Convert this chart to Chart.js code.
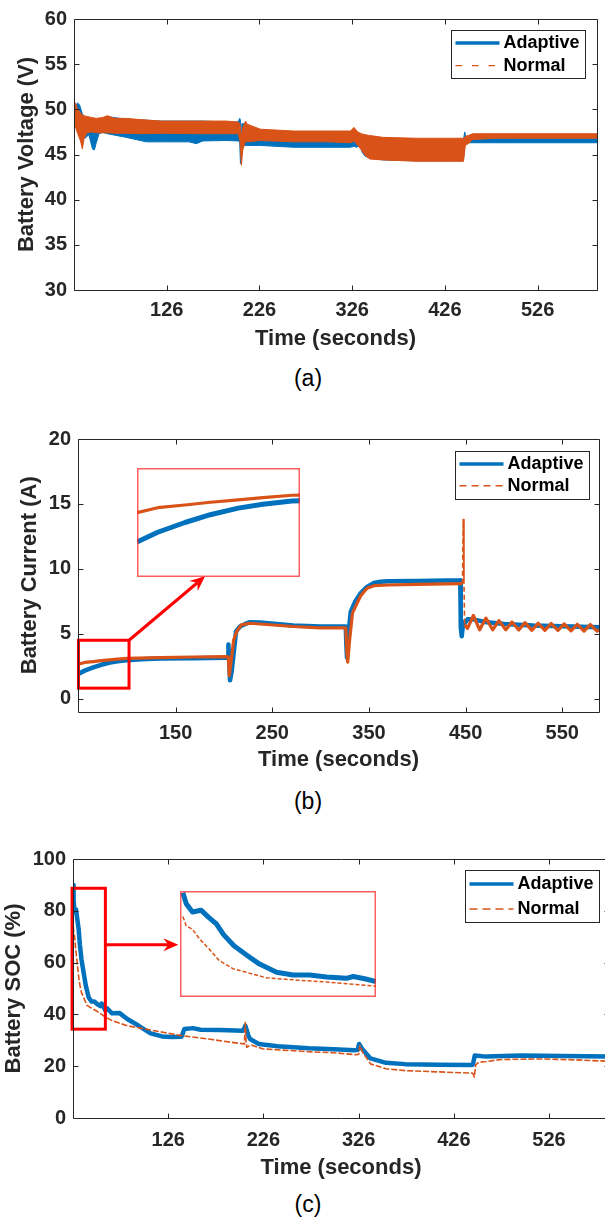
<!DOCTYPE html>
<html>
<head>
<meta charset="utf-8">
<script src="https://cdn.jsdelivr.net/npm/chart.js@4.4.1/dist/chart.umd.min.js"></script>
<style>
html, body { margin: 0; padding: 0; background: #fff; overflow: hidden; }
body { width: 605px; height: 1217px; position: relative; }
.panel { position: absolute; left: 0; }
.panel canvas { position: absolute; left: 0; top: 0; display: block; }
.cap { position: absolute; left: 0; width: 616px; height: 30px; line-height: 30px; text-align: center;
       font: 23px "Liberation Sans", Arial, sans-serif; color: #000; }
</style>
</head>
<body>
<div class="panel" id="panelA" style="top:0;width:605px;height:360px"><canvas id="chartA" width="605" height="360"></canvas></div>
<div class="cap" style="top:365px">(a)</div>
<div class="panel" id="panelB" style="top:420px;width:605px;height:360px"><canvas id="chartB" width="605" height="360"></canvas></div>
<div class="cap" style="top:788px">(b)</div>
<div class="panel" id="panelC" style="top:840px;width:620px;height:350px"><canvas id="chartC" width="620" height="350"></canvas></div>
<div class="cap" style="top:1191px">(c)</div>

<script>
// ---------------- data ----------------
const seriesNames = ['Adaptive', 'Normal'];

// (a) battery voltage: upper / lower envelope of each trace (V)
const voltTimeTicks = [126, 226, 326, 426, 526];
const voltTicks = [30, 35, 40, 45, 50, 55, 60];
const adaptiveVoltTime = [26, 28, 30, 32, 35, 38, 42, 46, 48, 50, 53, 57, 62, 82, 104, 119, 150, 158, 165, 191, 203, 204.7, 205.5, 206.2, 207, 210, 213, 227, 263, 324, 328, 331, 334, 337, 340, 345, 359, 395, 446, 447.3, 448.5, 451, 456, 500, 590];
const adaptiveVoltHigh = [50.0, 50.5, 50.7, 50.5, 49.5, 49.0, 48.9, 48.8, 48.8, 48.8, 48.9, 49.0, 49.2, 48.9, 48.8, 48.7, 48.7, 48.7, 48.7, 48.6, 48.6, 49.0, 48.8, 47.5, 48.4, 48.4, 48.2, 47.7, 47.5, 47.5, 47.7, 47.3, 46.8, 46.6, 46.5, 46.5, 46.6, 46.6, 46.6, 47.5, 47.0, 46.8, 46.8, 46.8, 46.8];
const adaptiveVoltLow = [48.0, 48.6, 49.2, 48.0, 47.0, 46.8, 47.2, 45.6, 45.5, 46.3, 47.3, 47.45, 47.3, 46.9, 46.4, 46.4, 46.4, 46.2, 46.5, 46.55, 46.5, 46.4, 44.0, 45.0, 45.8, 46.0, 46.0, 46.0, 45.8, 45.8, 45.9, 45.8, 46.0, 45.2, 44.8, 44.6, 44.4, 44.3, 44.3, 46.0, 46.2, 46.3, 46.3, 46.3, 46.3];
const normalVoltTime = [26, 28, 30, 33, 35, 37, 40, 45, 50, 57, 62, 70, 82, 100, 120, 160, 190, 203, 205, 206.5, 208, 211, 213, 227, 263, 300, 324, 328, 332, 336, 340, 345, 359, 395, 430, 446, 448, 451, 456, 480, 520, 560, 590];
const normalVoltHigh = [50.9, 50.6, 50.0, 49.6, 49.4, 49.3, 49.2, 49.1, 49.0, 49.1, 49.3, 49.0, 49.0, 48.85, 48.7, 48.7, 48.7, 48.6, 48.4, 47.0, 48.0, 48.7, 48.35, 47.8, 47.6, 47.6, 47.6, 48.0, 47.5, 47.3, 47.2, 47.1, 46.9, 46.8, 46.8, 46.8, 47.0, 47.1, 47.3, 47.3, 47.3, 47.3, 47.3];
const normalVoltLow = [48.2, 47.9, 47.3, 46.5, 45.6, 46.8, 47.4, 47.5, 47.4, 47.4, 47.4, 47.35, 47.35, 47.3, 47.35, 47.3, 47.3, 47.3, 46.5, 43.8, 45.5, 46.5, 46.4, 46.55, 46.4, 46.4, 46.3, 46.5, 46.0, 45.5, 44.9, 44.5, 44.4, 44.25, 44.25, 44.25, 46.0, 46.2, 46.65, 46.8, 46.8, 46.8, 46.8];

// (b) battery current (A)
const currentTimeTicks = [150, 250, 350, 450, 550];
const currentTicks = [0, 5, 10, 15, 20];
const adaptiveCurTime = [49.3, 56, 64.8, 73, 82, 90, 99.4, 115, 133.8, 168.3, 202.8, 204.3, 204.6, 206.3, 208, 210.5, 212.5, 216.6, 222, 227, 237.3, 271.7, 299.4, 326, 326.6, 327.3, 328.5, 331.2, 336, 341.3, 348, 355.2, 362, 369.3, 400, 430, 444.5, 445, 446, 447.5, 449, 452, 458, 470, 490, 520, 560, 588];
const adaptiveCurrent = [1.9, 2.15, 2.4, 2.6, 2.77, 2.87, 2.95, 3.02, 3.08, 3.1, 3.15, 3.15, 4.17, 1.4, 2.1, 3.8, 5.17, 5.55, 5.75, 5.88, 5.86, 5.63, 5.55, 5.55, 4.2, 3.15, 4.8, 6.7, 7.5, 8.1, 8.6, 8.91, 9.0, 9.04, 9.05, 9.1, 9.1, 5.5, 4.8, 5.9, 5.8, 6.1, 6.1, 5.9, 5.75, 5.62, 5.55, 5.5];
const normalCurTime = [49.3, 56, 64.8, 73, 82, 90, 99.4, 133.8, 168.3, 202.8, 204.5, 205.5, 207, 210, 213.2, 218, 227, 271.7, 299.4, 326, 327, 328, 330, 333, 341.3, 348, 355.2, 370, 400, 446, 446.8, 447.5, 448.3, 449, 452, 458, 464.5, 471, 478, 484.5, 491.5, 498, 505, 511.5, 518.5, 525, 532, 538.5, 545.5, 552, 559, 565.5, 572.5, 579, 586, 588];
const normalCurrent = [2.65, 2.78, 2.85, 2.92, 2.98, 3.04, 3.1, 3.15, 3.2, 3.23, 3.2, 1.77, 2.6, 4.5, 5.17, 5.68, 5.8, 5.55, 5.45, 5.45, 3.8, 2.8, 4.5, 6.6, 7.9, 8.5, 8.7, 8.75, 8.8, 8.85, 8.85, 13.8, 9.0, 5.7, 5.4, 6.4, 5.3, 6.2, 5.3, 6.0, 5.3, 5.9, 5.28, 5.85, 5.25, 5.8, 5.25, 5.78, 5.25, 5.75, 5.22, 5.72, 5.2, 5.7, 5.2, 5.3];

// (c) battery state of charge (%)
const socTimeTicks = [126, 226, 326, 426, 526];
const socTicks = [0, 20, 40, 60, 80, 100];
const adaptiveSocTime = [26, 26.6, 27.7, 29.2, 30.4, 31.9, 33.2, 35, 37.2, 39.5, 42.5, 45.4, 48.3, 51.3, 54.8, 56, 58, 60, 62, 67, 75, 83, 95, 107.5, 119.6, 130, 140, 143, 152, 160, 180, 204.8, 207, 208, 210, 212, 221, 241, 273.7, 300, 322, 325, 326.5, 330, 338.5, 354.7, 375, 410, 444, 446, 448, 460, 496.6, 540, 589];
const adaptiveSoc = [90, 84, 79.5, 80.5, 77, 73, 67, 61, 56, 51, 46.5, 45, 45, 44, 43.2, 44.2, 43, 41.5, 42.3, 40.4, 40.5, 38.2, 35.6, 32.7, 31.5, 31.3, 31.4, 34.4, 34.7, 34.1, 34.0, 33.7, 35.6, 34.5, 32, 30.5, 28.6, 27.7, 26.9, 26.5, 26.2, 26.3, 28.6, 26.5, 23, 21.3, 20.8, 20.6, 20.5, 20.6, 24.1, 23.7, 24.1, 23.9, 23.7];
const normalSocTime = [26, 26.6, 27.7, 28.9, 30.7, 32.4, 34.8, 37.2, 40.7, 45.4, 51.3, 59.8, 67, 83, 111.5, 140, 172, 192.6, 206, 207, 207.8, 208.5, 213, 225, 273.7, 300, 324, 326, 327.5, 330, 338.5, 354.7, 375, 410, 446, 447.5, 449, 452, 460, 476, 517, 550, 589];
const normalSoc = [77, 72, 70, 65, 59, 53, 48.5, 46.5, 43.5, 42.4, 41.2, 39.0, 37.6, 35.6, 33.7, 31.8, 30.3, 29.2, 28.6, 36.9, 29.5, 27.3, 28.2, 26.7, 25.6, 25.2, 24.4, 24.6, 28, 25.5, 20.9, 19, 18.3, 17.8, 17.3, 15.8, 20.5, 21.5, 21.8, 22.6, 22.8, 22.5, 21.9];

// ---------------- styling ----------------
const BLUE = '#0072BD', ORANGE = '#D95319', AXIS = '#262626', FONT = '"Liberation Sans", Arial, Helvetica, sans-serif';
Chart.defaults.font.family = FONT;
Chart.defaults.color = AXIS;

const pts = (xs, ys) => xs.map((x, i) => ({ x, y: ys[i] }));

function arrow(ctx, x0, y0, x1, y1) {
  const a = Math.atan2(y1 - y0, x1 - x0), c = Math.cos(a), s = Math.sin(a);
  const L = 15, W = 6.5, N = 10;
  ctx.beginPath();
  ctx.moveTo(x0, y0);
  ctx.lineTo(x1 - N * c, y1 - N * s);
  ctx.stroke();
  const bx = x1 - L * c, by = y1 - L * s;
  ctx.beginPath();
  ctx.moveTo(x1, y1);
  ctx.lineTo(bx - W * s, by + W * c);
  ctx.lineTo(x1 - N * c, y1 - N * s);
  ctx.lineTo(bx + W * s, by - W * c);
  ctx.closePath();
  ctx.fill();
}

// boxed axes with inward ticks, zoom marker and legend
const matlabAxes = {
  id: 'matlabAxes',
  afterDatasetsDraw(chart, args, o) {
    const { ctx, chartArea: a } = chart;
    const sx = chart.scales.x, sy = chart.scales.y;
    ctx.save();
    ctx.setLineDash([]);
    if (o.zoomBox) {
      const b = o.zoomBox;
      const l = sx.getPixelForValue(b.x0), r = sx.getPixelForValue(b.x1);
      const t = sy.getPixelForValue(b.y1), bt = sy.getPixelForValue(b.y0);
      ctx.strokeStyle = '#ff0000';
      ctx.fillStyle = '#ff0000';
      ctx.lineWidth = 3;
      ctx.strokeRect(l, t, r - l, bt - t);
      const p = o.zoomArrow;
      arrow(ctx, sx.getPixelForValue(p[0]), sy.getPixelForValue(p[1]), sx.getPixelForValue(p[2]), sy.getPixelForValue(p[3]));
    }
    const L = Math.round(a.left) + 0.5, R = Math.round(a.right) + 0.5;
    const T = Math.round(a.top) + 0.5, B = Math.round(a.bottom) + 0.5;
    ctx.strokeStyle = AXIS;
    ctx.lineWidth = 1;
    ctx.beginPath();
    ctx.rect(L, T, R - L, B - T);
    sx.ticks.forEach(tk => {
      const px = Math.round(sx.getPixelForValue(tk.value)) + 0.5;
      ctx.moveTo(px, B); ctx.lineTo(px, B - 5);
      ctx.moveTo(px, T); ctx.lineTo(px, T + 5);
    });
    sy.ticks.forEach(tk => {
      const py = Math.round(sy.getPixelForValue(tk.value)) + 0.5;
      ctx.moveTo(L, py); ctx.lineTo(L + 5, py);
      ctx.moveTo(R, py); ctx.lineTo(R - 5, py);
    });
    ctx.stroke();

    const g = o.legend;
    const bx = Math.round(a.right - g.dx), by = Math.round(a.top + g.dy);
    ctx.fillStyle = '#fff';
    ctx.fillRect(bx, by, g.w, g.h);
    ctx.strokeStyle = AXIS;
    ctx.lineWidth = 1;
    ctx.strokeRect(bx + 0.5, by + 0.5, g.w, g.h);
    g.items.forEach((it, i) => {
      const yy = by + g.rows[i];
      ctx.beginPath();
      ctx.setLineDash(it.dash || []);
      ctx.lineWidth = it.width;
      ctx.strokeStyle = it.color;
      ctx.moveTo(bx + 4.5, yy);
      ctx.lineTo(bx + 48.5, yy);
      ctx.stroke();
      ctx.setLineDash([]);
      ctx.fillStyle = '#000';
      ctx.font = 'bold 18px ' + FONT;
      ctx.textAlign = 'left';
      ctx.textBaseline = 'middle';
      ctx.fillText(seriesNames[i], bx + 52.5, yy);
    });
    ctx.restore();
  }
};

function buildChart(id, c) {
  return new Chart(document.getElementById(id), {
    type: 'line',
    data: { datasets: c.datasets },
    options: {
      responsive: false, animation: false, events: [],
      layout: { padding: { top: c.area.top, right: c.width - c.area.right, left: 0, bottom: 0 } },
      elements: { point: { radius: 0 }, line: { tension: 0, borderJoinStyle: 'round' } },
      plugins: { legend: { display: false }, tooltip: { enabled: false }, matlabAxes: c.deco },
      scales: {
        x: {
          type: 'linear', min: c.xMin, max: c.xMax,
          afterBuildTicks: s => { s.ticks = c.xTicks.map(v => ({ value: v })); },
          afterFit: s => { s.height = c.height - c.area.bottom; },
          grid: { display: false, drawTicks: false }, border: { display: false },
          ticks: { font: { size: 20, weight: 'bold' }, padding: c.xTickPad, autoSkip: false, maxRotation: 0, color: AXIS },
          title: { display: true, text: 'Time (seconds)', color: AXIS,
                   font: { size: 22, weight: 'bold', lineHeight: 1.2 }, padding: { top: 0, bottom: c.xTitlePad } }
        },
        y: {
          type: 'linear', min: c.yMin, max: c.yMax,
          afterBuildTicks: s => { s.ticks = c.yTicks.map(v => ({ value: v })); },
          afterFit: s => { s.width = c.area.left; },
          grid: { display: false, drawTicks: false }, border: { display: false },
          ticks: { font: { size: 20, weight: 'bold' }, padding: 7, color: AXIS },
          title: { display: true, text: c.yTitle, color: AXIS,
                   font: { size: 22, weight: 'bold', lineHeight: 1.2 }, padding: { top: c.yTitlePad, bottom: 0 } }
        }
      }
    },
    plugins: [matlabAxes]
  });
}

// magnified view placed inside the parent axes
const insetFrame = {
  id: 'insetFrame',
  afterDraw(chart) {
    const { ctx, width, height } = chart;
    ctx.save();
    ctx.strokeStyle = 'rgba(255,40,40,0.75)';
    ctx.lineWidth = 1.5;
    ctx.strokeRect(0.75, 0.75, width - 1.5, height - 1.5);
    ctx.restore();
  }
};

function addInset(panelId, parent, place, view, datasets) {
  const sx = parent.scales.x, sy = parent.scales.y;
  const l = sx.getPixelForValue(place.x0), r = sx.getPixelForValue(place.x1);
  const t = sy.getPixelForValue(place.y1), b = sy.getPixelForValue(place.y0);
  const cv = document.createElement('canvas');
  cv.width = Math.round(r - l);
  cv.height = Math.round(b - t);
  cv.style.left = Math.round(l) + 'px';
  cv.style.top = Math.round(t) + 'px';
  document.getElementById(panelId).appendChild(cv);
  return new Chart(cv, {
    type: 'line',
    data: { datasets },
    options: {
      responsive: false, animation: false, events: [],
      layout: { padding: 0 },
      elements: { point: { radius: 0 }, line: { tension: 0, borderJoinStyle: 'round' } },
      plugins: { legend: { display: false }, tooltip: { enabled: false } },
      scales: {
        x: { type: 'linear', display: false, min: view.x0, max: view.x1 },
        y: { type: 'linear', display: false, min: view.y0, max: view.y1 }
      }
    },
    plugins: [insetFrame]
  });
}

// ---------------- (a) voltage ----------------
buildChart('chartA', {
  width: 605, height: 360,
  area: { left: 74, top: 15, right: 597, bottom: 290 },
  xMin: 26, xMax: 590, xTicks: voltTimeTicks,
  yMin: 30, yMax: 60, yTicks: voltTicks,
  yTitle: 'Battery Voltage (V)',
  xTickPad: 8, xTitlePad: 7.8, yTitlePad: 13.3,
  datasets: [
    { label: seriesNames[0], data: pts(adaptiveVoltTime, adaptiveVoltLow), borderColor: BLUE, borderWidth: 1, fill: false, order: 3 },
    { label: seriesNames[0], data: pts(adaptiveVoltTime, adaptiveVoltHigh), borderColor: BLUE, backgroundColor: BLUE, borderWidth: 1, fill: '-1', order: 2 },
    { label: seriesNames[1], data: pts(normalVoltTime, normalVoltLow), borderColor: ORANGE, borderWidth: 1, fill: false, order: 1 },
    { label: seriesNames[1], data: pts(normalVoltTime, normalVoltHigh), borderColor: ORANGE, backgroundColor: ORANGE, borderWidth: 1, fill: '-1', order: 0 }
  ],
  deco: {
    legend: { dx: 146, dy: 11, w: 134, h: 48, rows: [13, 35.7],
              items: [{ color: BLUE, width: 3.5 }, { color: ORANGE, width: 1.2, dash: [6.5, 10] }] }
  }
});

// ---------------- (b) current ----------------
const spikeSeg = c => Math.max(c.p0.parsed.y, c.p1.parsed.y) >= 9 && c.p0.parsed.x >= 446.5;
const currentChart = buildChart('chartB', {
  width: 605, height: 360,
  area: { left: 78, top: 14, right: 599, bottom: 291.5 },
  xMin: 49, xMax: 588, xTicks: currentTimeTicks,
  yMin: -1, yMax: 20, yTicks: currentTicks,
  yTitle: 'Battery Current (A)',
  xTickPad: 9.5, xTitlePad: 6.8, yTitlePad: 16.8,
  datasets: [
    { label: seriesNames[0], data: pts(adaptiveCurTime, adaptiveCurrent), borderColor: BLUE, borderWidth: 4.5, fill: false, order: 1 },
    { label: seriesNames[1], data: pts(normalCurTime, normalCurrent), borderColor: ORANGE, borderWidth: 3.2, fill: false, order: 0,
      segment: { borderDash: c => spikeSeg(c) ? [5, 3] : undefined, borderWidth: c => spikeSeg(c) ? 1.6 : undefined } }
  ],
  deco: {
    zoomBox: { x0: 49.5, x1: 101.8, y0: 0.8, y1: 4.49 },
    zoomArrow: [101.8, 4.49, 180.4, 9.42],
    legend: { dx: 144, dy: 12, w: 134, h: 48, rows: [13, 34.7],
              items: [{ color: BLUE, width: 3.5 }, { color: ORANGE, width: 1.4, dash: [7, 5] }] }
  }
});
addInset('panelB', currentChart,
  { x0: 110.3, x1: 278.7, y0: 9.42, y1: 17.8 },
  { x0: 49.3, x1: 102, y0: 1.0, y1: 3.8 },
  [
    { data: pts(adaptiveCurTime, adaptiveCurrent), borderColor: BLUE, borderWidth: 5, fill: false, order: 1 },
    { data: pts(normalCurTime, normalCurrent), borderColor: ORANGE, borderWidth: 3.2, fill: false, order: 0 }
  ]);

// ---------------- (c) state of charge ----------------
const socChart = buildChart('chartC', {
  width: 620, height: 350,
  area: { left: 73, top: 18, right: 609, bottom: 278 },
  xMin: 26, xMax: 589, xTicks: socTimeTicks,
  yMin: 0, yMax: 100, yTicks: socTicks,
  yTitle: 'Battery SOC (%)',
  xTickPad: 10.4, xTitlePad: 8.8, yTitlePad: 0.8,
  datasets: [
    { label: seriesNames[0], data: pts(adaptiveSocTime, adaptiveSoc), borderColor: BLUE, borderWidth: 4.5, fill: false, order: 1 },
    { label: seriesNames[1], data: pts(normalSocTime, normalSoc), borderColor: ORANGE, borderWidth: 1.6, borderDash: [6, 2], fill: false, order: 0 }
  ],
  deco: {
    zoomBox: { x0: 25, x1: 60, y0: 34.3, y1: 88.7 },
    zoomArrow: [60, 66.9, 136.6, 66.9],
    legend: { dx: 144.5, dy: 11.3, w: 134, h: 52, rows: [14, 39],
              items: [{ color: BLUE, width: 3.5 }, { color: ORANGE, width: 1.4, dash: [8, 5] }] }
  }
});
addInset('panelC', socChart,
  { x0: 138.4, x1: 344.3, y0: 46.7, y1: 87.7 },
  { x0: 25.5, x1: 60, y0: 33, y1: 91 },
  [
    { data: pts(adaptiveSocTime, adaptiveSoc), borderColor: BLUE, borderWidth: 5, fill: false, order: 1 },
    { data: pts(normalSocTime, normalSoc), borderColor: ORANGE, borderWidth: 1.5, borderDash: [4, 2], fill: false, order: 0 }
  ]);
</script>
</body>
</html>
